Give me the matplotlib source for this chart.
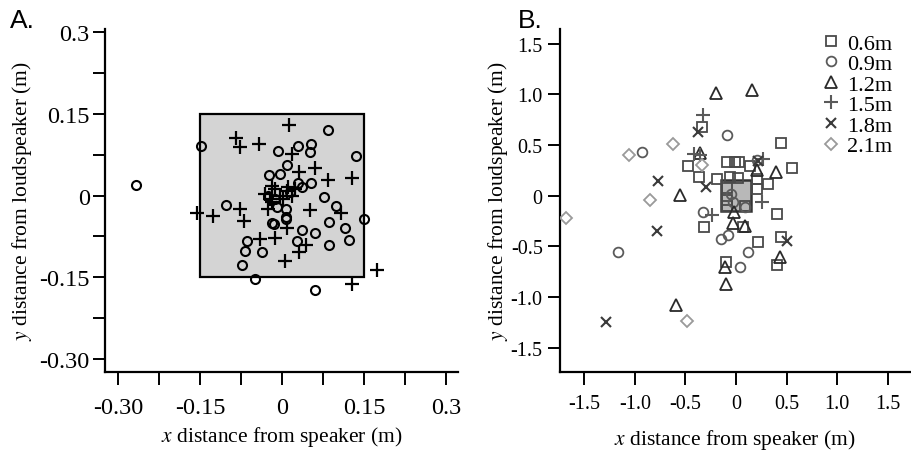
import matplotlib
matplotlib.use("Agg")
import matplotlib.pyplot as plt
from matplotlib.patches import Rectangle

plt.rcParams['font.family'] = ['Liberation Serif', 'DejaVu Serif']
plt.rcParams['mathtext.fontset'] = 'stix'

# ---------------- Panel A data ----------------
a_circ_x = [-0.268, -0.148, 0.083, -0.007, 0.029, 0.052, 0.051, 0.135, 0.008, -0.024,
            -0.004, 0.029, 0.052, 0.037, 0.077, 0.098, -0.103, 0.150, -0.018, 0.007,
            0.086, 0.037, 0.059, 0.115, 0.122, -0.064, -0.068, -0.037, 0.027, 0.085,
            -0.073, -0.050, 0.060, -0.027, -0.013, -0.010, 0.007, -0.016, 0.007, 0.014]
a_circ_y = [0.020, 0.092, 0.121, 0.082, 0.091, 0.094, 0.081, 0.072, 0.057, 0.037,
            0.039, 0.024, 0.024, 0.015, -0.003, -0.020, -0.017, -0.043, -0.050, -0.043,
            -0.048, -0.064, -0.069, -0.059, -0.082, -0.084, -0.101, -0.104, -0.084, -0.091,
            -0.127, -0.154, -0.174, 0.000, -0.006, -0.021, -0.024, -0.052, -0.040, 0.006]
a_plus_x = [0.013, -0.085, -0.078, -0.042, 0.017, 0.031, 0.060, 0.084, 0.128, -0.156,
            -0.126, -0.078, -0.070, 0.051, 0.107, 0.008, -0.041, -0.013, 0.043, 0.031,
            0.005, 0.174, 0.128, -0.032, -0.019, -0.004, 0.008, 0.017, 0.001, 0.023,
            0.010, -0.026, -0.013, -0.023, -0.019]
a_plus_y = [0.129, 0.105, 0.089, 0.094, 0.076, 0.043, 0.051, 0.029, 0.032, -0.032,
            -0.038, -0.024, -0.046, -0.026, -0.032, -0.060, -0.080, -0.077, -0.091, -0.104,
            -0.121, -0.136, -0.162, 0.003, -0.012, 0.000, 0.009, 0.000, -0.006, 0.012,
            0.016, -0.024, 0.012, -0.006, 0.018]
a_ticks = [-0.30, -0.15, 0.0, 0.15, 0.30]
a_xticklabels = ['-0.30', '-0.15', '0', '0.15', '0.3']
a_yticklabels = ['-0.30', '-0.15', '0', '0.15', '0.3']
a_minor = [-0.225, -0.075, 0.075, 0.225]

# ---------------- Panel B data ----------------
labels_b = ['0.6m', '0.9m', '1.2m', '1.5m', '1.8m', '2.1m']
sq_x = [-0.339, 0.441, 0.550, -0.478, -0.366, -0.191, -0.092, -0.010, 0.033, 0.138,
        0.211, 0.320, 0.023, 0.204, 0.402, -0.313, 0.072, 0.221, 0.441, 0.402,
        -0.099, -0.092, -0.092, 0.089, -0.092, -0.060]
sq_y = [0.674, 0.519, 0.273, 0.296, 0.187, 0.164, 0.329, 0.329, 0.329, 0.296,
        0.066, 0.115, 0.171, 0.165, -0.181, -0.312, -0.312, -0.454, -0.411, -0.684,
        -0.657, 0.080, -0.040, -0.099, -0.099, 0.180]
ci_x = [-0.092, -0.926, -1.163, 0.211, -0.323, -0.152, -0.076, 0.040, 0.115, 0.089,
        -0.050, -0.030]
ci_y = [0.598, 0.427, -0.552, 0.355, -0.158, -0.427, -0.388, -0.700, -0.552, -0.115,
        0.020, -0.060]
tr_x = [-0.198, 0.155, -0.356, -0.553, 0.204, 0.392, -0.020, -0.033, 0.089, -0.109,
        -0.099, 0.435, -0.593]
tr_y = [1.012, 1.045, 0.417, 0.010, 0.253, 0.230, -0.164, -0.270, -0.296, -0.707,
        -0.871, -0.608, -1.075]
pl_x = [-0.329, -0.415, 0.270, 0.254, -0.240, -0.356]
pl_y = [0.796, 0.411, 0.362, -0.059, -0.191, 0.400]
xx_x = [-0.372, -0.774, -0.300, -0.784, -1.288, 0.501, 0.220]
xx_y = [0.625, 0.141, 0.082, -0.352, -1.249, -0.444, 0.345]
di_x = [-1.057, -0.619, -0.850, -0.333, -1.680, -0.487]
di_y = [0.401, 0.510, -0.039, 0.306, -0.224, -1.233]
b_ticks = [-1.5, -1.0, -0.5, 0.0, 0.5, 1.0, 1.5]
b_ticklabels = ['-1.5', '-1.0', '-0.5', '0', '0.5', '1.0', '1.5']

W, H = 911, 452
fig = plt.figure(figsize=(W / 100, H / 100), dpi=100)

def style_axes(ax, tick_fs, xpad, ypad):
    for s in ['top', 'right']:
        ax.spines[s].set_visible(False)
    for s in ['left', 'bottom']:
        ax.spines[s].set_linewidth(1.6)
    ax.tick_params(which='both', direction='out', length=9, width=1.4,
                   labelsize=tick_fs, colors='black')
    ax.tick_params(axis='y', which='both', pad=ypad)
    ax.tick_params(axis='x', which='both', pad=xpad)

def place_labels(ax, xlab_y, ylab_x):
    ax.set_xlabel('$x$ distance from speaker (m)', fontsize=15.5)
    ax.set_ylabel('$y$ distance from loudspeaker (m)', fontsize=15.5)
    ax.xaxis.label.set_verticalalignment('center')
    ax.yaxis.label.set_verticalalignment('center')
    ax.xaxis.set_label_coords(0.5, xlab_y)
    ax.yaxis.set_label_coords(ylab_x, 0.5)

# ---------- Panel A ----------
axA = fig.add_axes([105 / W, 1 - 373 / H, (458 - 105) / W, (373 - 30) / H])
style_axes(axA, 17.5, 9, 2)
axA.set_xlim(-0.3247, 0.3218)
axA.set_ylim(-0.324, 0.306)
axA.add_patch(Rectangle((-0.15, -0.15), 0.30, 0.30, facecolor='#d4d4d4',
                        edgecolor='black', linewidth=1.6, zorder=1))
axA.plot(a_circ_x, a_circ_y, linestyle='none', marker='o', markersize=6.5,
         markerfacecolor='none', markeredgecolor='black', markeredgewidth=1.5, zorder=3)
axA.plot(a_plus_x, a_plus_y, linestyle='none', marker='+', markersize=10,
         markeredgecolor='black', markeredgewidth=1.6, zorder=3)
axA.set_xticks(a_ticks)
axA.set_xticklabels(a_xticklabels)
axA.set_yticks(a_ticks)
axA.set_yticklabels(a_yticklabels)
axA.set_xticks(a_minor, minor=True)
axA.set_yticks(a_minor, minor=True)
place_labels(axA, (373 - 437) / 343, (22 - 105) / 353)

# ---------- Panel B ----------
axB = fig.add_axes([560 / W, 1 - 373 / H, (910 - 560) / W, (373 - 30) / H])
style_axes(axB, 14.5, 7, 3.5)
axB.set_xlim(-1.739, 1.719)
axB.set_ylim(-1.739, 1.644)
axB.add_patch(Rectangle((-0.15, -0.15), 0.30, 0.30, facecolor='#b8b8b8',
                        edgecolor='#333333', linewidth=1.8, zorder=2))
mew = 1.3
hs = []
hs.append(axB.plot(sq_x, sq_y, ls='none', marker='s', ms=7, mfc='none', mec='#4a4a4a', mew=mew, zorder=3)[0])
hs.append(axB.plot(ci_x, ci_y, ls='none', marker='o', ms=7, mfc='none', mec='#5a5a5a', mew=mew, zorder=3)[0])
hs.append(axB.plot(tr_x, tr_y, ls='none', marker='^', ms=8, mfc='none', mec='#2a2a2a', mew=mew, zorder=3)[0])
hs.append(axB.plot(pl_x, pl_y, ls='none', marker='+', ms=10, mec='#5a5a5a', mew=1.5, zorder=3)[0])
hs.append(axB.plot(xx_x, xx_y, ls='none', marker='x', ms=7.5, mec='#3a3a3a', mew=1.5, zorder=3)[0])
hs.append(axB.plot(di_x, di_y, ls='none', marker='D', ms=6.5, mfc='none', mec='#9a9a9a', mew=mew, zorder=3)[0])
axB.set_xticks(b_ticks)
axB.set_xticklabels(b_ticklabels)
axB.set_yticks(b_ticks)
axB.set_yticklabels(b_ticklabels)
place_labels(axB, (373 - 440) / 343, (498 - 560) / 350)
fig.legend(hs, labels_b, loc='upper right', bbox_to_anchor=(892 / W, 1 - 34 / H),
           frameon=False, fontsize=16, handlelength=0.9, handletextpad=0.25,
           labelspacing=0.0, borderpad=0, borderaxespad=0)

# Panel letters
fig.text(10 / W, 1 - 28 / H, 'A.', fontsize=19, family='Liberation Sans')
fig.text(518 / W, 1 - 28 / H, 'B.', fontsize=19, family='Liberation Sans')

fig.savefig('out.png', dpi=100)
